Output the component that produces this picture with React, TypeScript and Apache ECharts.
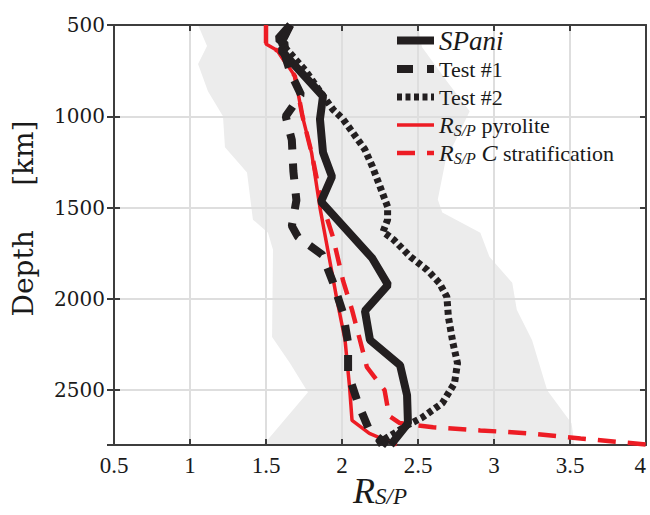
import React, { useEffect, useRef } from 'react';
import * as echarts from 'echarts';

// ---- Data (R_S/P versus depth in km) ----
const spaniDepth = [500, 575, 610, 640, 890, 1016, 1198, 1330, 1467, 1775, 1923, 2066, 2225, 2363, 2527, 2681, 2800];
const spaniR = [1.66, 1.58, 1.63, 1.6, 1.875, 1.855, 1.875, 1.934, 1.862, 2.197, 2.303, 2.151, 2.184, 2.382, 2.428, 2.434, 2.32];

const test1Depth = [500, 600, 760, 880, 1000, 1130, 1300, 1460, 1600, 1660, 1758, 1907, 2077, 2242, 2407, 2571, 2720, 2800];
const test1R = [1.66, 1.6, 1.66, 1.73, 1.63, 1.67, 1.68, 1.7, 1.67, 1.71, 1.87, 1.94, 2.007, 2.04, 2.04, 2.105, 2.18, 2.3];

const test2Depth = [500, 600, 750, 870, 962, 1016, 1088, 1181, 1275, 1385, 1495, 1566, 1632, 1676, 1769, 1841, 1912, 1989, 2099, 2242, 2352, 2462, 2571, 2648, 2692, 2758, 2800];
const test2R = [1.66, 1.6, 1.76, 1.86, 1.94, 2.007, 2.07, 2.15, 2.2, 2.25, 2.3, 2.3, 2.27, 2.34, 2.45, 2.56, 2.64, 2.69, 2.7, 2.73, 2.76, 2.74, 2.66, 2.53, 2.43, 2.3, 2.22];

const pyroDepth = [500, 604, 643, 780, 1000, 1200, 1500, 2005, 2225, 2484, 2665, 2736, 2800];
const pyroR = [1.5, 1.5, 1.58, 1.69, 1.74, 1.8, 1.855, 1.967, 2.02, 2.05, 2.066, 2.18, 2.36];

const stratDepth = [500, 604, 643, 780, 1000, 1200, 1450, 1660, 1900, 2060, 2225, 2374, 2500, 2640, 2680, 2703, 2720, 2736, 2764, 2797];
const stratR = [1.5, 1.5, 1.58, 1.69, 1.74, 1.8, 1.86, 1.94, 2.007, 2.066, 2.118, 2.164, 2.28, 2.31, 2.38, 2.6, 2.91, 3.22, 3.57, 4.0];

// grey envelope
const envLeftDepth = [500, 615, 714, 863, 1000, 1170, 1308, 1566, 1637, 1731, 2209, 2352, 2511, 2775, 2800];
const envLeftR = [1.053, 1.112, 1.053, 1.118, 1.217, 1.23, 1.375, 1.414, 1.513, 1.546, 1.54, 1.658, 1.776, 1.507, 1.48];
const envRightDepth = [500, 621, 808, 973, 1247, 1456, 1527, 1637, 1769, 1912, 2060, 2225, 2500, 2681, 2800];
const envRightR = [2.5, 2.526, 2.69, 2.84, 2.68, 2.63, 2.66, 2.91, 2.97, 3.12, 3.15, 3.25, 3.35, 3.51, 3.53];

const seriesNames = ['SPani', 'Test #1', 'Test #2', 'RSP pyrolite', 'RSP C stratification'];

const zip = (d: number[], r: number[]) => d.map((v, i) => [r[i], v]);

const BLACK = '#231f20';
const RED = '#ed1c24';
const AXIS = '#3d3d3d';
const GRID = '#dedede';
const TXT = '#1a1a1a';

export default function App() {
  const ref = useRef<HTMLDivElement>(null);
  useEffect(() => {
    document.body.style.margin = '0';
    const chart = echarts.init(ref.current!, null, { renderer: 'svg' });
    const grid = { left: 114, right: 4, top: 25, bottom: 70, outerBoundsMode: 'none', containLabel: false };
    const yCommon = {
      type: 'value' as const,
      inverse: true,
      min: 500,
      max: 2800,
      interval: 500,
    };
    const xCommon = {
      type: 'value' as const,
      min: 0.5,
      max: 4,
      interval: 0.5,
    };
    const option: any = {
      animation: false,
      backgroundColor: '#ffffff',
      grid,
      xAxis: [
        {
          ...xCommon,
          position: 'bottom',
          axisLine: { show: true, onZero: false, lineStyle: { color: AXIS, width: 2 } },
          axisTick: { show: true, inside: true, length: 6, lineStyle: { color: AXIS, width: 2 } },
          axisLabel: {
            margin: 9,
            color: TXT,
            fontFamily: 'Liberation Serif',
            fontSize: 23,
            alignMaxLabel: 'right',
            formatter: (v: number) => String(v),
          },
          splitLine: { show: true, lineStyle: { color: GRID, width: 2 } },
          name: '{r|R}{s|S/P}',
          nameLocation: 'middle',
          nameGap: 29,
          nameMoveOverlap: false,
          nameTextStyle: {
            rich: {
              r: { fontFamily: 'Liberation Serif', fontStyle: 'italic', fontSize: 36, lineHeight: 34, color: TXT },
              s: { fontFamily: 'Liberation Serif', fontStyle: 'italic', fontSize: 23, lineHeight: 14, verticalAlign: 'bottom', color: TXT },
            },
          },
        },
        {
          ...xCommon,
          position: 'top',
          axisLine: { show: true, onZero: false, lineStyle: { color: AXIS, width: 2 } },
          axisTick: { show: true, inside: true, length: 6, lineStyle: { color: AXIS, width: 2 } },
          axisLabel: { show: false },
          splitLine: { show: false },
        },
      ],
      yAxis: [
        {
          ...yCommon,
          position: 'left',
          axisLine: { show: true, onZero: false, lineStyle: { color: AXIS, width: 2 } },
          axisTick: { show: true, inside: false, length: 7, lineStyle: { color: AXIS, width: 2 } },
          axisLabel: {
            margin: 9,
            color: TXT,
            fontFamily: 'DejaVu Serif',
            fontSize: 20,
            formatter: (v: number) => (v % 500 === 0 ? String(v) : ''),
          },
          splitLine: { show: true, lineStyle: { color: GRID, width: 2 } },
          name: 'Depth     [km]',
          nameLocation: 'middle',
          nameRotate: 90,
          nameGap: 77,
          nameMoveOverlap: false,
          nameTextStyle: { fontFamily: 'DejaVu Serif', fontSize: 28, color: TXT, padding: [0, 0, 0, 33] },
        },
        {
          ...yCommon,
          position: 'left',
          axisLine: { show: false },
          axisTick: { show: true, inside: true, length: 6, lineStyle: { color: AXIS, width: 2 } },
          axisLabel: { show: false },
          splitLine: { show: false },
        },
        {
          ...yCommon,
          position: 'right',
          axisLine: { show: true, onZero: false, lineStyle: { color: AXIS, width: 2 } },
          axisTick: { show: true, inside: true, length: 6, lineStyle: { color: AXIS, width: 2 } },
          axisLabel: { show: false },
          splitLine: { show: false },
        },
      ],
      legend: {
        data: seriesNames,
        orient: 'vertical',
        left: 388,
        top: 22,
        itemWidth: 37,
        itemHeight: 14,
        itemGap: 2,
        itemTextGap: 7,
        lineStyle: { width: 'inherit' },
        itemStyle: { opacity: 0 },
        formatter: (name: string) => {
          if (name === 'SPani') return '{i|SPani}';
          if (name === 'RSP pyrolite') return '{r|R}{s|S/P} pyrolite';
          if (name === 'RSP C stratification') return '{r|R}{s|S/P} {r|C} stratification';
          return name;
        },
        textStyle: {
          fontFamily: 'Liberation Serif',
          fontSize: 22,
          lineHeight: 26,
          color: TXT,
          rich: {
            i: { fontFamily: 'Liberation Serif', fontStyle: 'italic', fontSize: 27, lineHeight: 26, color: TXT },
            r: { fontFamily: 'Liberation Serif', fontStyle: 'italic', fontSize: 24, lineHeight: 26, color: TXT },
            s: { fontFamily: 'Liberation Serif', fontStyle: 'italic', fontSize: 16, lineHeight: 8, verticalAlign: 'bottom', color: TXT },
          },
        },
      },
      series: [
        {
          type: 'custom',
          name: 'envelope',
          z: -1,
          silent: true,
          xAxisIndex: 0,
          yAxisIndex: 0,
          data: [[envLeftR[0], envLeftDepth[0]]],
          renderItem: (params: any, api: any) => {
            const pts: number[][] = [];
            envLeftDepth.forEach((d, i) => pts.push(api.coord([envLeftR[i], d])));
            for (let i = envRightDepth.length - 1; i >= 0; i--) {
              pts.push(api.coord([envRightR[i], envRightDepth[i]]));
            }
            return { type: 'polygon', shape: { points: pts }, style: { fill: '#ececec' } };
          },
        },
        {
          type: 'line',
          name: 'RSP pyrolite',
          data: zip(pyroDepth, pyroR),
          symbol: 'none',
          z: 3,
          color: RED,
          lineStyle: { color: RED, width: 3.5, type: 'solid' },
        },
        {
          type: 'line',
          name: 'RSP C stratification',
          data: zip(stratDepth, stratR),
          symbol: 'none',
          z: 3,
          color: RED,
          lineStyle: { color: RED, width: 4.5, type: [18, 12] },
        },
        {
          type: 'line',
          name: 'SPani',
          data: zip(spaniDepth, spaniR),
          symbol: 'none',
          z: 4,
          color: BLACK,
          lineStyle: { color: BLACK, width: 8, type: 'solid' },
        },
        {
          type: 'line',
          name: 'Test #1',
          data: zip(test1Depth, test1R),
          symbol: 'none',
          z: 5,
          color: BLACK,
          lineStyle: { color: BLACK, width: 8, type: [16, 14] },
        },
        {
          type: 'line',
          name: 'Test #2',
          data: zip(test2Depth, test2R),
          symbol: 'none',
          z: 5,
          color: BLACK,
          lineStyle: { color: BLACK, width: 7, type: [5, 3.5] },
        },
      ],
    };
    chart.setOption(option);
    return () => chart.dispose();
  }, []);
  return <div ref={ref} style={{ width: 650, height: 515 }} />;
}
